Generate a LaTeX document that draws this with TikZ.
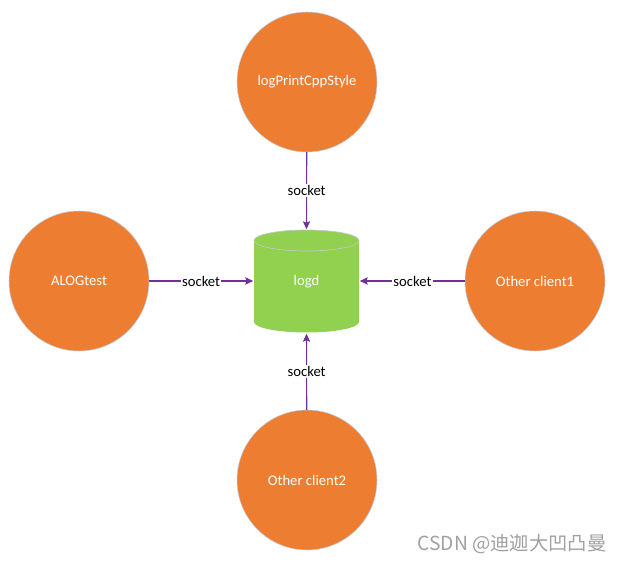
\documentclass[tikz,border=0pt]{standalone}
\usepackage{fontspec}
\setmainfont{Carlito}
\newfontfamily\cjk{Noto Sans CJK SC}
\usetikzlibrary{arrows.meta}
\definecolor{orng}{HTML}{ED7D31}
\definecolor{grn}{HTML}{92D050}
\definecolor{purp}{HTML}{7030A0}
\definecolor{rim}{RGB}{195,205,225}
\definecolor{wm}{RGB}{160,160,160}
\tikzset{
  client/.style={circle, fill=orng, draw=rim, line width=0.4pt, minimum size=105pt, inner sep=0pt, outer sep=0pt, text=white, font=\fontsize{11}{13}\selectfont},
  dbbox/.style={rectangle, minimum width=78.75pt, minimum height=77.25pt, inner sep=0pt, outer sep=0.6pt, text=white, font=\fontsize{11}{13}\selectfont},
  arr/.style={draw=purp, line width=0.8pt, -{Stealth[length=6pt,width=5.5pt,inset=1.2pt]}},
  lbl/.style={fill=white, inner sep=1pt, text=black, font=\fontsize{11}{13}\selectfont}
}
\begin{document}
\begin{tikzpicture}[x=0.75pt,y=-0.75pt]
\useasboundingbox (0,0) rectangle (622,563);
% cylinder body
\fill[grn] (254,240.5) -- (254,322) arc[start angle=180,end angle=360,x radius=39.375pt,y radius=7.875pt] -- (359,240.5) -- cycle;
\filldraw[fill=grn, draw=gray!45, line width=0.5pt] (306.5,240.5) ellipse[x radius=39.375pt, y radius=7.875pt];
\node[dbbox] (logd) at (306.5,281.5) {logd};
\node[client] (top) at (307,82) {logPrintCppStyle};
\node[client] (left) at (79,281) {ALOGtest};
\node[client] (right) at (535,281) {Other client1};
\node[client] (bot) at (307,480) {Other client2};
\draw[arr] (top) -- node[lbl] {socket} (logd.north);
\draw[arr] (left) -- node[lbl] {socket} (logd.west|-left);
\draw[arr] (right) -- node[lbl] {socket} (logd.east|-right);
\draw[arr] (bot) -- node[lbl] {socket} (logd.south);
\node[text=wm, font=\cjk\fontsize{14.5}{17}\selectfont] (wmk) at (512,544) {CSDN @迪迦大凹凸曼};
\end{tikzpicture}
\end{document}
